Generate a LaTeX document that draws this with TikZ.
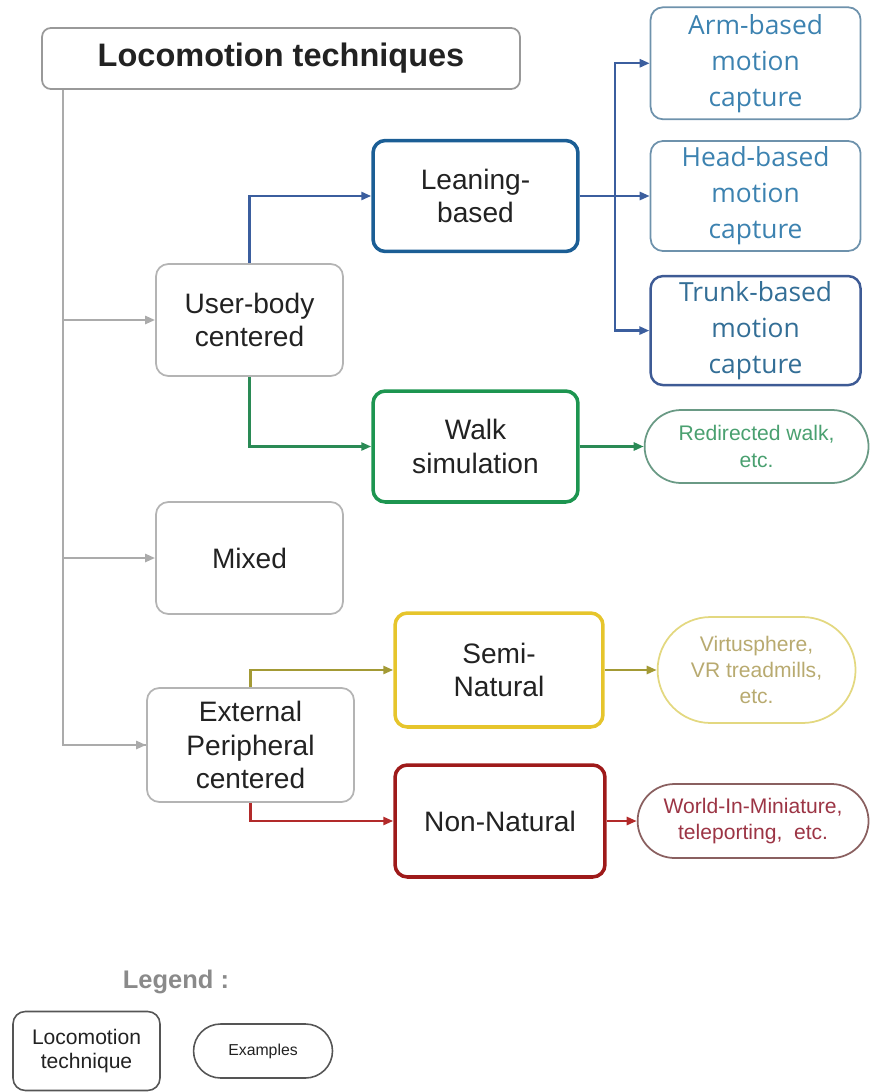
\documentclass[tikz,border=0pt]{standalone}
\usepackage{fontspec}
\setmainfont{Liberation Sans}
\newfontfamily\capfont{Open Sans}
\usepackage{tikz}
\usetikzlibrary{
	shapes.misc,
	arrows.meta,
	positioning
}

\definecolor{textdark}{HTML}{222222}
\definecolor{techgray}{HTML}{B4B4B4}
\definecolor{spinegray}{HTML}{ABABAB}
\definecolor{leanblue}{HTML}{1B5E95}
\definecolor{linkblue}{HTML}{3B5E9E}
\definecolor{capgray}{HTML}{6E92AC}
\definecolor{captext}{HTML}{3C82B0}
\definecolor{trunkblue}{HTML}{3E5B95}
\definecolor{walkgreen}{HTML}{1D9550}
\definecolor{linkgreen}{HTML}{2A8A55}
\definecolor{exgreen}{HTML}{4AA070}
\definecolor{exgreenline}{HTML}{6A9A85}
\definecolor{semiyellow}{HTML}{E6C52C}
\definecolor{linkolive}{HTML}{A39A35}
\definecolor{exolive}{HTML}{B8AA70}
\definecolor{exoliveline}{HTML}{E3D880}
\definecolor{nonred}{HTML}{9E1A1A}
\definecolor{linkred}{HTML}{B22A2A}
\definecolor{exred}{HTML}{9C3545}
\definecolor{exredline}{HTML}{8A6060}
\definecolor{leggray}{HTML}{8A8A8A}
\definecolor{legline}{HTML}{555555}

\begin{document}
\begin{tikzpicture}[
    x=0.02cm, y=-0.02cm,
    basebox/.style={rectangle, rounded corners=7pt, align=center, inner sep=2pt, text=textdark, font=\fontsize{16}{19}\selectfont},
    tech/.style={basebox, draw=techgray, line width=1pt, text width=3.4cm, minimum width=3.74cm, minimum height=2.24cm},
    family/.style={basebox, line width=2pt, text width=3.7cm, minimum width=4.1cm, minimum height=2.22cm},
    capture/.style={basebox, draw=capgray, line width=1pt, text width=3.9cm, minimum width=4.2cm, minimum height=2.2cm, text=captext, font=\capfont\fontsize{15}{20.5}\selectfont},
    example/.style={rounded rectangle, draw, line width=1pt, align=center, inner sep=2pt, font=\fontsize{12}{15}\selectfont},
    link/.style={line width=1.4pt, -{Triangle[length=2mm,width=1.6mm]}},
    spine/.style={draw=spinegray, line width=1.3pt}
]
\useasboundingbox (0,0) rectangle (875,1092);

% Nodes
\node[basebox, draw=techgray!85!black, line width=1pt, minimum width=9.56cm, minimum height=1.22cm, rounded corners=5pt, font=\fontsize{18.5}{22}\bfseries] (title) at (281,58.5) {Locomotion techniques};

\node[tech] (user) at (249.5,320) {User-body\\centered};
\node[tech] (mixed) at (249.5,558) {Mixed};
\node[tech, minimum width=4.14cm, minimum height=2.28cm] (external) at (250.5,745) {External\\Peripheral\\centered};

\node[family, draw=leanblue] (leaning) at (475.5,196) {Leaning-\\based};
\node[family, draw=walkgreen] (walk) at (475.5,446.5) {Walk\\simulation};
\node[family, draw=semiyellow, minimum width=4.16cm, minimum height=2.28cm] (semi) at (499,670) {Semi-\\Natural};
\node[family, draw=nonred, minimum width=4.2cm, minimum height=2.24cm] (nonnat) at (500,821) {Non-Natural};

\node[capture, right=1.4cm of leaning] (head) {Head-based\\motion\\capture};
\node[capture, above=0.4cm of head, minimum height=2.24cm] (arm) {Arm-based\\motion\\capture};
\node[capture, below=0.46cm of head, draw=trunkblue, line width=1.4pt, minimum height=2.18cm, text=captext!85!black] (trunk) {Trunk-based\\motion\\capture};

\node[example, right=1.28cm of walk, draw=exgreenline, text=exgreen, minimum width=4.62cm, minimum height=1.46cm] (redirected) {Redirected walk,\\etc.};
\node[example, right=1.04cm of semi, draw=exoliveline, text=exolive, minimum width=4.1cm, minimum height=2.12cm] (virtu) {Virtusphere,\\VR treadmills,\\etc.};
\node[example, right=0.6cm of nonnat, draw=exredline, text=exred, minimum width=4.76cm, minimum height=1.48cm] (world) {World-In-Miniature,\\teleporting,\ \ etc.};

% Legend
\node[text=leggray, font=\fontsize{14.5}{17}\bfseries] (legend) at (176,982) {Legend :};
\node[basebox, draw=legline, line width=0.9pt, minimum width=2.94cm, minimum height=1.58cm, text width=2.7cm, font=\fontsize{12}{14}\selectfont] (legtech) at (86.5,1051) {Locomotion\\technique};
\node[example, right=0.64cm of legtech, draw=legline, line width=0.9pt, text=textdark, minimum width=2.92cm, minimum height=1.08cm, font=\fontsize{9}{11}\selectfont] (legex) {Examples};

% Gray spine
\coordinate (spinetop) at ([xshift=0.44cm]title.south west);
\draw[spine] (spinetop) |- (external.west);
\draw[link, spinegray] (spinetop |- user.west) -- (user.west);
\draw[link, spinegray] (spinetop |- mixed.west) -- (mixed.west);
\draw[link, spinegray] (spinetop |- external.west) -- (external.west);

% Arrows
\draw[link, linkblue] (user.north) |- (leaning.west);
\draw[link, linkgreen] (user.south) |- (walk.west);
\draw[link, linkolive] (external.north) |- (semi.west);
\draw[link, linkred] (external.south) |- (nonnat.west);

\coordinate (fork) at ([xshift=0.7cm]leaning.east);
\draw[line width=1.4pt, linkblue] (leaning.east) -- (fork);
\draw[link, linkblue] (fork) |- (arm.west);
\draw[link, linkblue] (fork) -- (head.west);
\draw[link, linkblue] (fork) |- (trunk.west);

\draw[link, linkgreen] (walk) -- (redirected);
\draw[link, linkolive] (semi) -- (virtu);
\draw[link, linkred] (nonnat) -- (world);

\end{tikzpicture}
\end{document}
